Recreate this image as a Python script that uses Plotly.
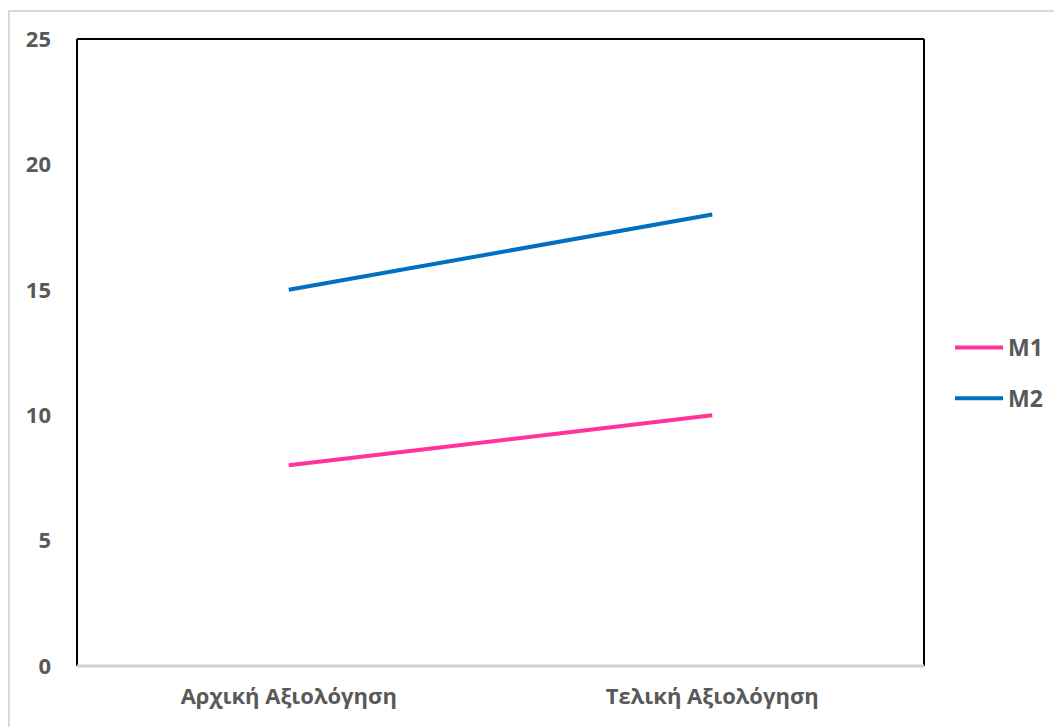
import plotly.graph_objects as go

categories = ["Αρχική Αξιολόγηση", "Τελική Αξιολόγηση"]
m1_values = [8, 10]
m2_values = [15, 18]
y_ticks = [0, 5, 10, 15, 20, 25]

W, H = 1054, 727
L, R, T, B = 77, 130, 39, 61
pw, ph = W - L - R, H - T - B

def px_x(x):
    return (x - L) / pw

def px_y(y):
    return (H - B - y) / ph

text_color = "#595959"
font_family = "Open Sans, DejaVu Sans, sans-serif"

fig = go.Figure()
fig.add_trace(go.Scatter(x=categories, y=m1_values, mode="lines", name="M1",
                         legendgroup="a", line=dict(color="#FF3399", width=4)))
fig.add_trace(go.Scatter(x=categories, y=m2_values, mode="lines", name="M2",
                         legendgroup="b", line=dict(color="#0070C0", width=4)))

shapes = [
    # outer chart frame
    dict(type="rect", xref="paper", yref="paper",
         x0=px_x(9), x1=px_x(1070), y0=px_y(11), y1=px_y(745),
         line=dict(color="#D9D9D9", width=2), layer="below"),
    # plot frame: black left/top/right, grey baseline
    dict(type="line", xref="paper", yref="paper", x0=0, x1=0, y0=0, y1=1,
         line=dict(color="black", width=2)),
    dict(type="line", xref="paper", yref="paper", x0=0, x1=1, y0=1, y1=1,
         line=dict(color="black", width=2)),
    dict(type="line", xref="paper", yref="paper", x0=1, x1=1, y0=0, y1=1,
         line=dict(color="black", width=2)),
    dict(type="line", xref="paper", yref="paper", x0=0, x1=1, y0=0, y1=0,
         line=dict(color="#D0D0D0", width=3)),
]

fig.update_layout(
    width=W, height=H,
    margin=dict(l=L, r=R, t=T, b=B, pad=0, autoexpand=False),
    paper_bgcolor="white", plot_bgcolor="white",
    font=dict(family=font_family, color=text_color, size=22, weight="bold"),
    shapes=shapes,
    showlegend=True,
    legend=dict(x=px_x(950), y=px_y(326), xanchor="left", yanchor="top",
                traceorder="grouped", tracegroupgap=18, itemwidth=48,
                font=dict(size=23, color=text_color, weight="bold"),
                bgcolor="rgba(0,0,0,0)"),
    xaxis=dict(type="category", range=[-0.5, 1.5], showgrid=False,
               showline=False, zeroline=False, ticks="",
               ticklabelstandoff=15, tickfont=dict(size=22)),
    yaxis=dict(range=[0, 25], tickvals=y_ticks, showgrid=False,
               showline=False, zeroline=False, ticks="",
               ticklabelstandoff=25, tickfont=dict(size=22)),
)

fig.write_html("out.html")
